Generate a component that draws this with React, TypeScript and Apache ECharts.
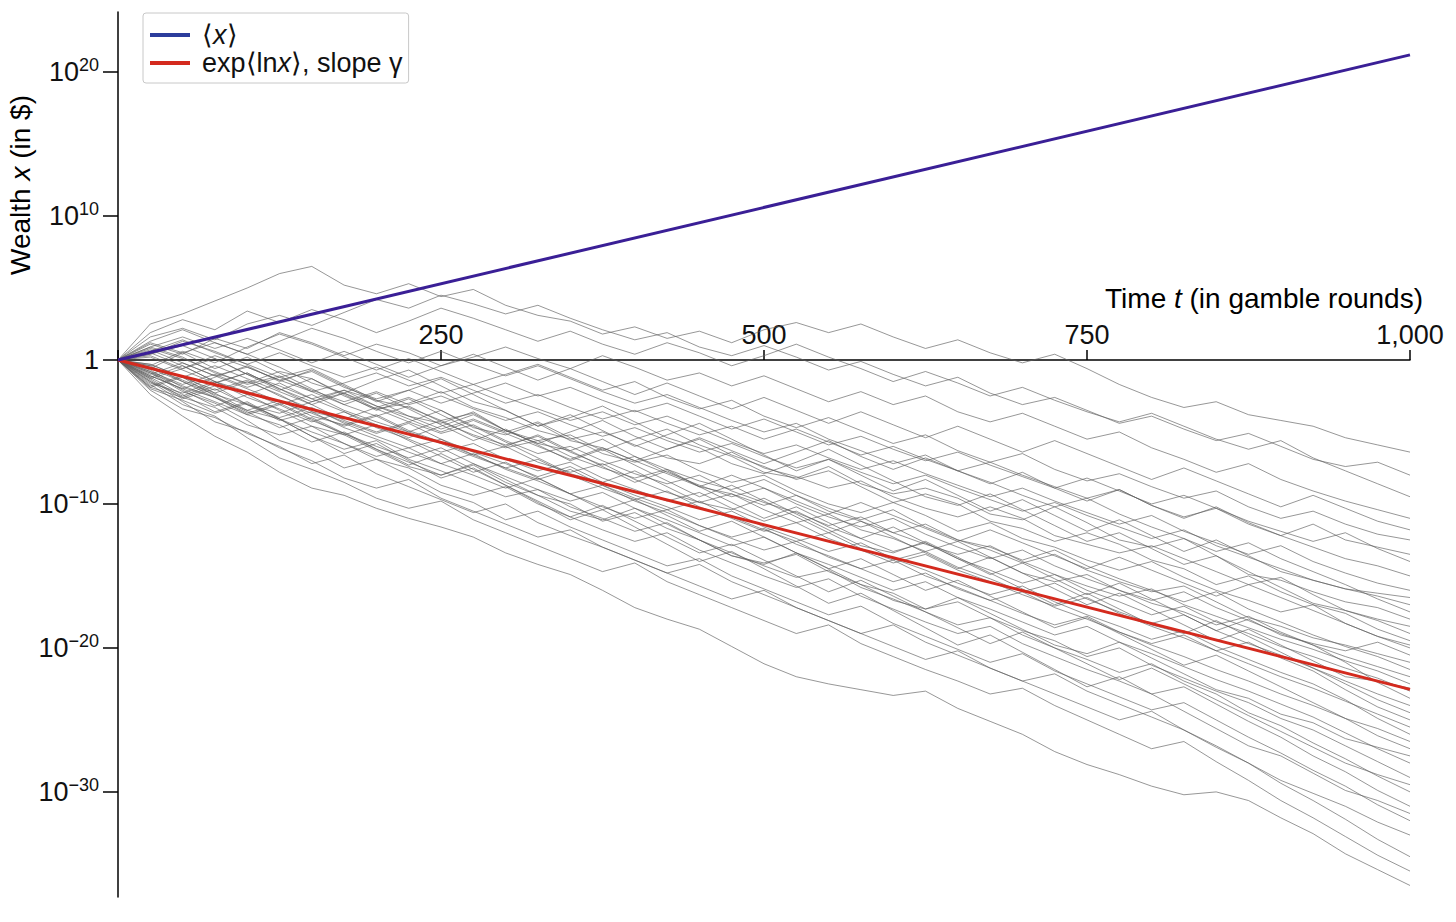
import React, { useEffect, useRef } from "react";
import * as echarts from "echarts";

// Time axis (gamble rounds) at which the wealth trajectories were read
const TIMES = [0, 25, 50, 75, 100, 125, 150, 175, 200, 225, 250, 275, 300, 325, 350, 375, 400, 425, 450, 475, 500, 525, 550, 575, 600, 625, 650, 675, 700, 725, 750, 775, 800, 825, 850, 875, 900, 925, 950, 975, 1000];

// log10 of wealth for individual trajectories
const PATH_A = [0, 2.5, 3.2, 4.1, 5.0, 6.0, 6.5, 5.2, 4.6, 5.3, 4.4, 4.9, 3.8, 3.1, 2.7, 1.8, 2.3, 1.5, 2.0, 1.2, 2.1, 2.6, 1.9, 2.5, 1.6, 0.8, 1.4, 0.5, -0.2, 0.4, -0.6, -1.7, -2.6, -3.3, -2.9, -3.8, -4.2, -4.6, -5.4, -5.9, -6.4];
const PATH_A2 = [0, 1.9, 2.8, 2.1, 3.4, 2.6, 3.5, 2.8, 1.9, 2.7, 3.6, 2.9, 2.1, 1.3, 2.0, 1.1, 0.4, 1.2, 0.5, -0.4, 0.3, 1.1, 0.2, -0.6, -1.5, -0.8, -1.6, -2.5, -1.9, -2.8, -3.6, -4.3, -3.7, -4.6, -5.5, -6.2, -5.6, -6.8, -7.7, -8.6, -9.5];
const PATH_B = [0, 1.6, 2.2, 1.4, 2.5, 3.1, 2.4, 3.3, 4.2, 3.6, 4.5, 3.9, 3.2, 3.8, 2.9, 2.1, 1.4, 1.9, 0.9, 0.3, 1.0, 0.2, -0.7, -0.1, -1.0, -1.8, -1.2, -2.3, -3.1, -2.6, -3.5, -4.4, -3.9, -4.8, -5.6, -5.1, -6.0, -6.9, -7.4, -7.1, -8.0];
const PATH_C = [0, 1.1, 0.4, 1.5, 0.8, 1.9, 1.2, 0.3, 1.1, 0.5, -0.4, 0.2, 0.9, 0.1, -0.6, 0.3, -0.5, -1.4, -0.9, -1.8, -1.1, -2.0, -2.9, -2.2, -3.1, -2.5, -3.6, -4.3, -3.7, -4.6, -5.5, -5.0, -6.1, -6.9, -7.8, -7.2, -8.3, -9.1, -9.8, -10.4, -11.0];
const PATH_D = [0, -0.4, 0.6, -0.2, 0.9, 1.8, 1.1, 0.2, -0.7, 0.1, -0.8, -1.7, -1.0, -0.3, -1.2, -2.1, -1.5, -2.6, -3.4, -2.8, -3.9, -4.7, -4.0, -4.9, -5.8, -5.2, -6.3, -7.1, -6.5, -7.6, -8.4, -7.9, -8.8, -9.6, -9.1, -10.2, -11.0, -10.5, -11.4, -12.1, -12.5];
const PATH_E = [0, 0.7, -0.2, -1.1, -0.5, -1.4, -0.8, -1.9, -2.7, -2.1, -3.0, -2.3, -1.6, -2.5, -1.9, -2.8, -3.6, -3.0, -3.9, -4.8, -4.1, -5.0, -5.9, -5.3, -6.2, -7.0, -6.4, -7.3, -8.1, -8.9, -8.2, -9.1, -10.0, -9.4, -10.3, -11.2, -11.9, -12.6, -12.0, -13.1, -14.0];
const PATH_F = [0, -1.3, -0.6, 0.3, -0.5, -1.4, -2.2, -1.6, -0.9, -1.8, -1.2, -2.1, -3.0, -2.4, -3.3, -4.1, -3.5, -4.4, -5.2, -4.6, -5.5, -4.8, -5.7, -6.6, -6.0, -6.9, -7.7, -7.1, -8.0, -8.8, -9.6, -9.0, -10.1, -10.9, -10.3, -11.4, -12.2, -13.0, -13.8, -14.3, -15.0];
const PATH_G = [0, 0.4, 1.3, 0.6, -0.3, 0.5, -0.4, -1.2, -0.5, -1.4, -2.3, -1.7, -2.6, -3.4, -4.2, -3.6, -4.5, -3.9, -4.8, -5.7, -6.5, -5.9, -6.8, -7.6, -7.0, -7.9, -8.7, -9.5, -8.9, -9.8, -10.6, -11.4, -10.8, -11.9, -12.7, -13.5, -12.9, -14.0, -14.8, -15.5, -16.0];
const PATH_H = [0, -0.8, -1.7, -1.0, -1.9, -1.2, -2.1, -2.9, -2.2, -3.1, -2.5, -3.4, -4.2, -3.6, -4.5, -5.3, -4.7, -5.6, -6.4, -5.8, -6.7, -7.5, -6.9, -7.8, -8.6, -8.0, -8.9, -9.7, -10.5, -9.9, -10.8, -11.6, -12.4, -11.8, -12.9, -13.7, -14.5, -15.3, -15.9, -16.4, -17.0];
const PATH_B2 = [0, 1.3, 2.1, 1.2, 0.4, 1.3, 2.2, 1.5, 0.6, -0.2, 0.6, -0.3, -1.1, -0.4, -1.3, -2.2, -3.0, -2.4, -3.3, -4.2, -5.0, -4.4, -5.5, -6.3, -7.2, -6.6, -7.7, -8.5, -9.4, -10.2, -9.6, -10.7, -11.6, -12.4, -13.3, -12.7, -13.8, -14.7, -15.6, -16.6, -17.5];
const PATH_I = [0, -1.9, -2.6, -1.8, -3.1, -3.7, -2.9, -2.1, -2.8, -3.9, -4.4, -3.6, -4.9, -5.6, -5.2, -6.3, -5.5, -4.8, -5.9, -6.7, -7.8, -8.2, -7.4, -8.6, -9.3, -8.9, -9.6, -10.7, -11.1, -10.2, -11.3, -12.5, -13.0, -12.4, -13.6, -14.9, -15.3, -16.1, -16.8, -17.2, -18.0];
const PATH_J = [0, 0.9, 0.2, -0.9, -1.6, -0.8, -1.3, -2.5, -3.4, -3.0, -2.2, -3.3, -4.0, -4.9, -5.5, -5.0, -5.9, -6.8, -7.2, -6.4, -7.5, -8.1, -8.9, -8.4, -9.5, -10.3, -10.9, -10.2, -11.0, -12.2, -12.8, -13.4, -12.9, -13.8, -14.7, -15.6, -15.1, -16.3, -17.4, -18.1, -19.0];
const PATH_K = [0, -0.5, -1.4, -2.3, -1.5, -2.4, -3.6, -4.1, -3.3, -2.6, -3.5, -4.7, -5.2, -4.4, -5.6, -6.1, -7.0, -6.2, -5.5, -6.6, -7.4, -8.3, -7.7, -8.8, -9.9, -9.3, -10.0, -11.2, -11.7, -12.6, -12.0, -12.8, -13.9, -14.5, -15.6, -15.0, -16.1, -17.0, -17.6, -18.7, -19.5];
const PATH_L = [0, 0.3, -0.6, 0.1, -1.0, -1.8, -2.7, -2.1, -3.2, -3.9, -4.8, -4.1, -5.0, -4.3, -5.4, -6.5, -7.1, -6.6, -7.7, -8.5, -8.0, -9.1, -10.0, -10.6, -9.9, -10.8, -11.9, -11.3, -12.4, -13.0, -13.9, -14.6, -14.0, -15.1, -16.0, -16.7, -17.5, -17.0, -18.3, -19.2, -20.0];
const PATH_M = [0, -1.2, -0.4, -1.5, -2.2, -3.1, -2.4, -3.5, -4.3, -5.0, -4.2, -5.3, -6.1, -5.6, -6.7, -7.5, -8.2, -7.6, -8.8, -9.3, -10.1, -9.4, -10.5, -11.2, -12.0, -11.4, -12.5, -13.2, -14.1, -13.5, -14.6, -15.4, -16.1, -15.7, -16.8, -17.9, -18.5, -19.3, -19.8, -20.4, -21.0];
const PATH_N = [0, 0.6, 1.4, 0.5, -0.3, -1.2, -0.6, -1.7, -2.8, -3.3, -4.2, -3.7, -4.9, -5.8, -6.3, -5.5, -6.7, -7.6, -8.4, -9.0, -8.3, -9.4, -10.3, -11.1, -10.4, -11.6, -12.5, -13.0, -13.9, -13.2, -14.3, -15.2, -16.0, -16.8, -16.1, -17.3, -18.2, -19.1, -19.9, -20.6, -21.5];
const PATH_O = [0, -0.9, -1.8, -2.6, -3.5, -2.8, -3.9, -4.5, -3.8, -4.9, -5.7, -6.6, -6.0, -7.1, -7.8, -7.2, -8.3, -9.2, -9.9, -9.3, -10.4, -11.3, -10.7, -11.8, -12.4, -13.3, -12.6, -13.7, -14.8, -15.4, -14.9, -16.0, -16.9, -17.5, -18.4, -17.8, -18.9, -19.8, -20.6, -21.3, -22.0];
const PATH_P = [0, 0.2, -0.7, -1.6, -0.9, -2.0, -2.9, -2.3, -3.4, -4.3, -5.1, -4.5, -5.6, -6.5, -6.0, -7.0, -7.9, -8.6, -8.0, -9.1, -9.9, -10.6, -11.5, -10.9, -12.0, -12.8, -13.5, -12.9, -14.0, -14.9, -15.7, -16.4, -15.9, -17.0, -17.8, -18.6, -19.4, -20.1, -20.9, -21.6, -22.5];
const PATH_Q = [0, -1.6, -2.3, -1.5, -2.6, -3.4, -4.3, -3.6, -4.7, -5.5, -6.4, -5.8, -6.9, -7.7, -7.1, -8.2, -9.0, -9.8, -9.2, -10.3, -11.2, -10.5, -11.6, -12.4, -13.3, -12.7, -13.8, -14.6, -15.5, -14.9, -16.0, -16.8, -17.7, -17.1, -18.2, -19.0, -19.9, -20.6, -21.4, -22.1, -23.0];
const PATH_R = [0, 0.8, 0.1, -0.8, -1.7, -1.1, -2.2, -3.1, -3.9, -3.2, -4.3, -5.2, -5.9, -5.3, -6.4, -7.3, -6.7, -7.8, -8.7, -9.5, -8.9, -10.0, -10.9, -11.6, -11.0, -12.1, -13.0, -13.8, -13.2, -14.3, -15.2, -16.0, -16.7, -16.1, -17.2, -18.1, -19.0, -19.8, -21.0, -22.4, -23.5];
const PATH_S = [0, -0.6, -1.5, -2.4, -3.1, -4.0, -3.3, -4.4, -5.3, -6.1, -5.5, -6.6, -7.5, -8.3, -7.6, -8.7, -9.6, -10.4, -9.8, -10.9, -11.8, -12.6, -12.0, -13.1, -13.9, -13.3, -14.4, -15.2, -16.1, -15.5, -16.6, -17.5, -18.3, -17.7, -18.8, -19.7, -20.5, -21.4, -22.3, -23.2, -24.0];
const PATH_T = [0, -1.0, -0.2, -1.1, -2.0, -2.9, -3.7, -4.6, -3.9, -5.0, -5.8, -6.7, -7.5, -6.9, -8.0, -8.9, -9.7, -9.1, -10.2, -11.0, -11.9, -11.3, -12.4, -13.2, -14.1, -13.5, -14.6, -15.4, -16.3, -17.1, -16.5, -17.6, -18.5, -19.3, -20.2, -19.6, -20.7, -21.6, -22.9, -24.1, -25.0];
const PATH_U = [0, -1.4, -2.7, -2.0, -3.1, -4.2, -3.6, -4.7, -5.5, -6.4, -7.2, -6.5, -7.6, -8.4, -9.3, -8.7, -9.8, -10.6, -11.5, -12.3, -11.7, -12.8, -13.6, -14.5, -13.9, -15.0, -15.8, -16.7, -16.1, -17.2, -18.0, -18.9, -19.7, -19.1, -20.2, -21.1, -22.0, -22.8, -23.7, -24.6, -25.5];
const PATH_V = [0, -0.3, -1.2, -2.1, -1.4, -2.5, -3.4, -4.3, -5.1, -4.4, -5.5, -6.4, -7.2, -8.1, -7.4, -8.5, -9.4, -10.2, -11.1, -10.5, -11.6, -12.4, -13.3, -12.7, -13.8, -14.6, -15.5, -16.3, -15.7, -16.8, -17.7, -18.5, -19.4, -18.8, -19.9, -20.8, -21.7, -22.5, -23.6, -24.9, -26.0];
const PATH_W = [0, -2.0, -2.8, -3.7, -3.0, -4.1, -5.0, -5.8, -6.7, -6.1, -7.2, -8.0, -8.9, -8.2, -9.3, -10.2, -11.0, -10.4, -11.5, -12.4, -13.2, -12.6, -13.7, -14.5, -15.4, -14.8, -15.9, -16.7, -17.6, -18.4, -17.8, -18.9, -19.8, -20.6, -21.5, -22.3, -23.2, -24.0, -24.9, -26.1, -27.0];
const PATH_X = [0, -1.1, -2.0, -2.9, -3.8, -3.1, -4.2, -5.1, -6.0, -6.8, -6.1, -7.2, -8.1, -9.0, -9.8, -9.2, -10.3, -11.1, -12.0, -12.9, -12.3, -13.4, -14.2, -15.1, -16.0, -15.4, -16.5, -17.3, -18.2, -19.1, -18.5, -19.6, -20.4, -21.3, -22.2, -23.0, -23.9, -24.8, -25.9, -27.0, -28.0];
const PATH_Y = [0, -0.7, -1.9, -2.6, -3.8, -4.5, -5.7, -5.0, -6.2, -7.1, -8.0, -7.3, -8.5, -9.4, -10.0, -11.2, -10.6, -11.7, -12.5, -13.6, -14.1, -13.5, -14.7, -15.6, -16.2, -17.3, -16.8, -17.9, -18.8, -19.5, -20.6, -20.0, -21.2, -22.1, -23.0, -23.8, -24.9, -25.7, -26.8, -27.9, -29.0];
const PATH_Z = [0, -1.8, -1.1, -2.3, -3.5, -4.1, -5.3, -6.2, -5.6, -6.9, -7.7, -8.6, -9.5, -9.0, -10.2, -11.0, -11.9, -11.3, -12.5, -13.4, -14.3, -15.1, -14.6, -15.8, -16.6, -17.5, -18.4, -17.9, -19.1, -20.0, -20.8, -21.7, -21.1, -22.3, -23.2, -24.5, -25.4, -26.6, -27.7, -28.9, -30.0];
const PATH_AA = [0, -1.3, -2.6, -3.3, -4.5, -5.2, -4.6, -5.8, -6.9, -7.5, -8.7, -9.4, -8.8, -10.0, -10.9, -11.8, -12.6, -12.0, -13.2, -14.1, -15.0, -15.8, -15.2, -16.4, -17.3, -18.2, -19.0, -18.5, -19.7, -20.6, -21.5, -22.3, -23.2, -22.7, -23.9, -25.1, -26.2, -27.5, -28.6, -29.9, -31.0];
const PATH_AB = [0, -0.9, -2.2, -3.0, -4.2, -5.6, -6.3, -7.5, -6.9, -8.0, -9.2, -9.9, -11.1, -10.5, -11.6, -12.5, -13.4, -14.3, -13.8, -15.0, -15.9, -16.8, -17.7, -17.1, -18.3, -19.2, -20.1, -21.0, -20.4, -21.6, -22.5, -23.4, -24.3, -23.8, -25.0, -26.2, -27.3, -28.5, -29.6, -30.9, -32.0];
const PATH_AC = [0, -2.1, -3.4, -4.0, -5.1, -6.0, -7.2, -6.6, -7.9, -8.8, -9.7, -10.6, -10.0, -11.3, -12.2, -13.0, -13.9, -14.8, -14.2, -15.4, -16.3, -17.2, -18.1, -19.0, -18.4, -19.6, -20.5, -21.4, -22.3, -21.8, -23.0, -23.9, -24.8, -25.7, -26.9, -28.0, -29.2, -30.1, -31.0, -32.1, -33.0];
const PATH_AD = [0, -1.5, -2.9, -4.3, -5.0, -6.1, -7.0, -8.2, -8.9, -8.3, -9.6, -10.5, -11.4, -12.3, -11.8, -13.0, -13.9, -14.8, -15.7, -16.6, -16.0, -17.2, -18.1, -19.0, -19.9, -20.8, -20.2, -21.4, -22.3, -23.2, -24.1, -25.0, -24.4, -25.7, -26.8, -28.0, -29.4, -30.6, -31.9, -33.3, -34.5];
const PATH_AE = [0, -1.7, -3.1, -3.9, -5.4, -6.8, -7.6, -8.5, -9.6, -10.3, -9.8, -11.1, -12.0, -12.9, -13.8, -14.7, -14.1, -15.4, -16.3, -17.2, -18.1, -19.0, -18.4, -19.7, -20.6, -21.5, -22.3, -23.2, -22.8, -24.0, -25.0, -26.0, -27.0, -26.5, -27.9, -29.2, -30.6, -31.8, -33.1, -34.4, -35.5];
const PATH_AF = [0, -2.4, -3.9, -5.3, -6.4, -7.8, -8.9, -9.4, -10.3, -11.0, -11.6, -12.3, -13.4, -14.2, -14.9, -16.0, -17.2, -18.0, -18.7, -19.9, -21.1, -22.0, -22.5, -22.9, -23.3, -23.0, -24.2, -25.1, -26.0, -27.2, -28.1, -28.8, -29.6, -30.2, -30.0, -30.6, -31.8, -32.9, -34.3, -35.4, -36.5];
const PATH_P1 = [0, -0.6, 0.5, 1.2, 0.4, -0.5, -1.6, -2.3, -1.4, -0.7, -1.8, -2.9, -3.5, -4.6, -4.0, -3.2, -4.3, -5.4, -6.1, -7.2, -7.9, -7.1, -6.2, -7.3, -8.4, -9.5, -10.1, -9.3, -10.4, -11.5, -12.6, -12.0, -13.1, -14.2, -13.6, -14.7, -15.8, -16.9, -17.4, -18.0, -18.5];
const PATH_P2 = [0, -1.5, -2.5, -1.6, -0.9, -2.0, -3.1, -4.2, -5.0, -4.3, -3.5, -4.6, -5.7, -6.8, -7.9, -8.5, -7.7, -8.8, -9.9, -10.4, -9.6, -10.7, -11.8, -12.9, -13.4, -12.6, -13.7, -14.8, -15.9, -17.0, -16.2, -17.3, -18.4, -19.0, -18.1, -19.2, -20.3, -21.4, -22.5, -23.6, -24.5];
const PATH_P3 = [0, 0.5, -0.4, -1.5, -2.4, -1.6, -2.7, -3.6, -4.5, -5.4, -4.6, -3.8, -4.9, -5.8, -5.0, -4.2, -5.3, -6.2, -5.4, -6.3, -7.2, -6.4, -5.6, -6.7, -7.6, -6.8, -7.7, -8.6, -7.8, -8.9, -9.8, -9.0, -10.1, -11.0, -10.2, -11.3, -12.2, -11.4, -12.5, -13.0, -13.5];
const PATH_P4 = [0, -0.8, -2.1, -3.2, -2.4, -3.5, -4.6, -5.2, -6.3, -7.4, -8.0, -7.2, -8.3, -9.4, -10.5, -11.1, -10.3, -11.4, -12.5, -13.6, -14.2, -13.4, -14.5, -15.6, -16.7, -17.3, -16.5, -17.6, -18.7, -19.8, -20.4, -19.6, -20.7, -21.8, -22.9, -23.5, -24.6, -25.2, -26.3, -26.9, -27.5];
const PATH_P5 = [0, 0.4, 1.0, 0.1, -1.0, -2.1, -1.3, -2.4, -3.5, -2.7, -3.8, -4.9, -6.0, -5.2, -6.3, -7.4, -8.5, -7.7, -8.8, -9.9, -11.0, -10.2, -11.3, -12.4, -11.6, -12.7, -13.8, -14.9, -14.1, -15.2, -16.3, -15.5, -16.6, -17.7, -18.8, -18.0, -19.1, -19.7, -20.2, -19.6, -20.5];
const PATH_P6 = [0, -1.1, -2.0, -1.2, -0.4, -1.5, -0.7, -1.8, -2.9, -2.1, -1.3, -2.4, -3.5, -4.6, -3.8, -4.9, -6.0, -5.2, -4.4, -5.5, -6.6, -7.7, -6.9, -8.0, -9.1, -8.3, -9.4, -10.5, -9.7, -10.8, -11.9, -11.1, -12.2, -13.3, -12.5, -13.6, -14.7, -15.3, -15.9, -16.2, -16.5];
const PATH_P7 = [0, -1.9, -1.2, -2.5, -3.6, -4.7, -4.0, -5.1, -6.2, -7.3, -6.5, -7.6, -8.7, -9.8, -10.9, -10.1, -11.2, -12.3, -13.4, -12.8, -13.9, -15.0, -16.1, -15.3, -16.4, -17.5, -18.6, -19.7, -18.9, -20.0, -21.1, -22.2, -21.4, -22.5, -23.6, -24.7, -25.8, -26.9, -28.0, -28.8, -29.5];
const PATH_P8 = [0, 1.2, 0.5, -0.6, 0.2, -0.9, -2.0, -3.1, -2.3, -3.4, -4.5, -5.6, -4.8, -5.9, -7.0, -6.2, -7.3, -8.4, -9.5, -8.7, -9.8, -10.9, -12.0, -11.2, -12.3, -13.4, -14.5, -13.7, -14.8, -15.9, -17.0, -16.2, -17.3, -18.4, -19.5, -18.7, -19.8, -20.9, -22.0, -22.3, -22.8];
const PATH_P9 = [0, 0.9, 1.6, 0.8, 1.5, 0.7, -0.2, 0.6, -0.3, -1.2, -0.4, 0.4, -0.5, -1.4, -0.6, -1.5, -2.4, -1.6, -2.5, -3.4, -2.6, -3.5, -4.4, -3.6, -4.5, -5.4, -4.6, -5.5, -6.4, -5.6, -6.5, -7.4, -8.3, -7.5, -8.4, -9.3, -10.2, -9.4, -10.3, -11.2, -11.8];
const PATH_P10 = [0, -0.4, -1.5, -2.6, -3.7, -3.0, -4.1, -5.2, -4.5, -5.6, -6.7, -7.8, -7.1, -8.2, -9.3, -10.4, -9.7, -10.8, -11.9, -11.2, -12.3, -13.4, -14.5, -13.8, -14.9, -16.0, -15.3, -16.4, -17.5, -18.6, -17.9, -19.0, -20.1, -21.2, -20.5, -21.6, -22.7, -23.8, -24.9, -25.6, -26.5];
const PATH_P11 = [0, -0.3, -1.2, -0.4, -1.3, -2.2, -3.1, -2.3, -3.2, -4.1, -5.0, -4.2, -5.1, -6.0, -6.9, -6.1, -7.0, -7.9, -8.8, -8.0, -8.9, -9.8, -10.7, -9.9, -10.8, -11.7, -12.6, -11.8, -12.7, -13.6, -14.5, -13.7, -14.6, -15.5, -16.4, -15.6, -16.5, -17.4, -18.3, -19.2, -19.8];
const PATH_P12 = [0, -1.2, -2.4, -3.6, -2.9, -4.1, -5.3, -6.5, -5.8, -7.0, -8.2, -7.5, -8.7, -9.9, -11.1, -10.4, -11.6, -12.8, -14.0, -13.3, -14.5, -15.7, -16.9, -16.2, -17.4, -18.6, -19.8, -19.1, -20.3, -21.5, -22.7, -22.0, -23.2, -24.4, -25.6, -26.8, -27.5, -28.7, -29.9, -30.6, -31.5];

const PATHS = [PATH_A, PATH_A2, PATH_B, PATH_C, PATH_D, PATH_E, PATH_F, PATH_G, PATH_H, PATH_B2, PATH_I, PATH_J, PATH_K, PATH_L, PATH_M, PATH_N, PATH_O, PATH_P, PATH_Q, PATH_R, PATH_S, PATH_T, PATH_U, PATH_V, PATH_W, PATH_X, PATH_Y, PATH_Z, PATH_AA, PATH_AB, PATH_AC, PATH_AD, PATH_AE, PATH_AF, PATH_P1, PATH_P2, PATH_P3, PATH_P4, PATH_P5, PATH_P6, PATH_P7, PATH_P8, PATH_P9, PATH_P10, PATH_P11, PATH_P12];

// Ensemble average <x> and time-average growth exp<ln x> (log10 of wealth)
const AVG_TIMES = [0, 1000];
const ENSEMBLE_AVG = [0, 21.19];
const TIME_AVG = [0, -22.88];

const Y_TICKS = [-30, -20, -10, 0, 10, 20];
const X_TICK_STEP = 250;

const NAME_ENSEMBLE = "⟨x⟩";
const NAME_TIME = "exp⟨lnx⟩, slope γ";

const FONT = '"Liberation Sans", Arial, Helvetica, sans-serif';

export default function App() {
  const ref = useRef<HTMLDivElement>(null);

  useEffect(() => {
    const chart = echarts.init(ref.current!, null, { renderer: "svg" });

    const graySeries = PATHS.map((p, idx) => ({
      type: "line",
      name: "traj" + idx,
      data: TIMES.map((t, i) => [t, p[i]]).filter((d) => d[1] !== undefined),
      showSymbol: false,
      symbol: "none",
      silent: true,
      lineStyle: { width: 0.9, color: "#5e5e5e", opacity: 0.72 },
      z: 1,
    }));

    const richLegend = {
      n: { fontFamily: FONT, fontSize: 27, color: "#111" },
      i: { fontFamily: FONT, fontSize: 27, color: "#111", fontStyle: "italic" },
    };
    const richName = {
      n: { fontFamily: FONT, fontSize: 28, color: "#111" },
      i: { fontFamily: FONT, fontSize: 28, color: "#111", fontStyle: "italic" },
    };

    const option: any = {
      animation: false,
      backgroundColor: "#ffffff",
      grid: { left: 118, right: 46, top: 12, bottom: 25, containLabel: false, outerBoundsMode: "none" },
      legend: {
        orient: "vertical",
        left: 143,
        top: 13,
        padding: [8, 6, 6, 7],
        itemGap: 0,
        itemWidth: 40,
        itemHeight: 4,
        icon: "rect",
        borderColor: "#c8c8c8",
        borderWidth: 1,
        borderRadius: 3,
        backgroundColor: "#fff",
        data: [
          { name: NAME_ENSEMBLE, itemStyle: { color: "#2c3d9c" } },
          { name: NAME_TIME, itemStyle: { color: "#d42a1e" } },
        ],
        formatter: (name: string) =>
          name === NAME_ENSEMBLE ? "{n|⟨}{i|x}{n|⟩}" : "{n|exp⟨ln}{i|x}{n|⟩, slope γ}",
        textStyle: { fontFamily: FONT, fontSize: 27, lineHeight: 28, padding: [0, 0, 0, 7], rich: richLegend },
      },
      xAxis: {
        type: "value",
        min: 0,
        max: 1000,
        interval: X_TICK_STEP,
        position: "top",
        offset: -348,
        axisLine: { show: true, onZero: false, lineStyle: { color: "#000", width: 1.5 } },
        axisTick: { show: true, length: 10, lineStyle: { color: "#000", width: 1.5 } },
        axisLabel: {
          margin: 12,
          fontFamily: FONT,
          fontSize: 27,
          color: "#111",
          formatter: (v: number) => (v === 0 ? "" : v >= 1000 ? "1,000" : String(v)),
        },
        splitLine: { show: false },
      },
      yAxis: {
        type: "value",
        min: -37.3,
        max: 24.17,
        axisLine: { show: true, onZero: false, lineStyle: { color: "#000", width: 1.5 } },
        axisTick: { show: true, length: 15, customValues: Y_TICKS, lineStyle: { color: "#000", width: 1.5 } },
        axisLabel: {
          customValues: Y_TICKS,
          margin: 19,
          formatter: (v: number) =>
            v === 0 ? "{b|1}" : "{b|10}{s|" + (v < 0 ? "−" : "") + Math.abs(v) + "}",
          rich: {
            b: { fontFamily: FONT, fontSize: 27, color: "#111", lineHeight: 32 },
            s: { fontFamily: FONT, fontSize: 18, color: "#111", lineHeight: 20, verticalAlign: "top" },
          },
        },
        splitLine: { show: false },
      },
      graphic: [
        {
          type: "text",
          x: 20,
          y: 185,
          rotation: Math.PI / 2,
          style: {
            text: "{n|Wealth }{i|x}{n| (in $)}",
            rich: richName,
            align: "center",
            verticalAlign: "middle",
          },
        },
        {
          type: "text",
          x: 1423,
          y: 298,
          style: {
            text: "{n|Time }{i|t}{n| (in gamble rounds)}",
            rich: richName,
            align: "right",
            verticalAlign: "middle",
          },
        },
      ],
      series: [
        ...graySeries,
        {
          type: "line",
          name: NAME_TIME,
          data: AVG_TIMES.map((t, i) => [t, TIME_AVG[i]]),
          showSymbol: false,
          symbol: "none",
          lineStyle: { width: 3, color: "#d42a1e" },
          itemStyle: { color: "#d42a1e" },
          z: 5,
        },
        {
          type: "line",
          name: NAME_ENSEMBLE,
          data: AVG_TIMES.map((t, i) => [t, ENSEMBLE_AVG[i]]),
          showSymbol: false,
          symbol: "none",
          lineStyle: { width: 3, color: "#3a1f96" },
          itemStyle: { color: "#2c3d9c" },
          z: 5,
        },
      ],
    };

    chart.setOption(option);
    return () => chart.dispose();
  }, []);

  return (
    <div
      ref={ref}
      style={{ position: "absolute", left: 0, top: 0, width: 1456, height: 922, background: "#fff" }}
    />
  );
}
